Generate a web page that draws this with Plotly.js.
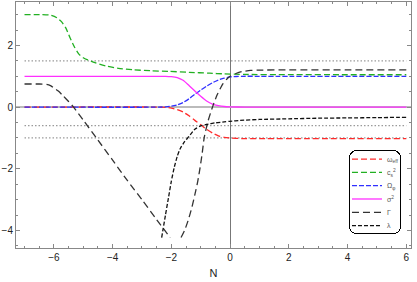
<!DOCTYPE html>
<html><head><meta charset="utf-8">
<script src="https://cdn.plot.ly/plotly-3.0.1.min.js"></script>
<style>html,body{margin:0;padding:0;background:#fff;}#chart{width:417px;height:282px;}</style>
</head><body><div id="chart"></div>
<script>
// ---- data ----
const nOmegaEff = [-7,-2.4,-2.2,-2.0,-1.8,-1.6,-1.4,-1.2,-1.0,-0.8,-0.6,-0.4,-0.2,0,0.4,1,6];
const omegaEff  = [0,0,-0.01,-0.03,-0.08,-0.16,-0.28,-0.43,-0.57,-0.72,-0.84,-0.93,-0.98,-1.0,-1.02,-1.02,-1.02];

const nSoundSpeed = [-7,-6.4,-6.1,-5.9,-5.75,-5.6,-5.45,-5.3,-5.15,-5.0,-4.85,-4.6,-4.2,-3.8,-3.3,-2.7,-2.1,-1.4,-0.7,-0.2,0.5,2,4,6];
const soundSpeed  = [3.0,3.0,2.98,2.9,2.78,2.58,2.25,1.95,1.72,1.6,1.53,1.44,1.33,1.26,1.21,1.18,1.16,1.13,1.1,1.08,1.06,1.055,1.05,1.05];

const nOmegaPhi = [-7,-2.4,-2.2,-2.0,-1.8,-1.6,-1.4,-1.2,-1.0,-0.8,-0.6,-0.4,-0.2,0,0.4,1,6];
const omegaPhi  = [0,0,0.01,0.03,0.07,0.15,0.27,0.42,0.55,0.68,0.79,0.88,0.94,0.98,1.0,1.0,1.0];

const nSigma = [-7,-2.4,-2.2,-2.0,-1.8,-1.6,-1.4,-1.2,-1.0,-0.8,-0.6,-0.4,-0.2,0,0.5,1,6];
const sigma2 = [1,1,1.0,0.99,0.96,0.87,0.7,0.52,0.35,0.2,0.1,0.05,0.02,0.01,0,0,0];

const nGamma = [-7,-6.5,-6.25,-6.1,-6.0,-5.85,-5.7,-5.5,-5.33,-5.0,-4.5,-4.0,-3.5,-3.0,-2.5,-2.04,-1.85,
                -1.67,-1.55,-1.43,-1.3,-1.19,-1.1,-1.02,-0.95,-0.88,-0.75,-0.6,-0.44,-0.24,-0.1,0,0.2,0.4,0.7,1.0,2,4,6];
const gamma  = [0.75,0.75,0.74,0.69,0.62,0.52,0.38,0.18,0,-0.42,-1.07,-1.72,-2.38,-3.0,-3.65,-4.23,null,
                -4.23,-4.0,-3.68,-3.25,-2.8,-2.4,-1.95,-1.5,-0.98,-0.45,0.0,0.4,0.76,0.92,1.0,1.09,1.15,1.19,1.2,1.21,1.21,1.21];

const nLambda = [-2.33,-2.28,-2.2,-2.1,-2.0,-1.9,-1.8,-1.7,-1.55,-1.4,-1.2,-1.0,-0.8,-0.5,-0.2,0,0.34,1,2,3,4,5,6];
const lambda  = [-4.23,-3.95,-3.5,-2.95,-2.4,-1.95,-1.6,-1.35,-1.12,-0.95,-0.72,-0.61,-0.56,-0.51,-0.48,-0.46,-0.43,-0.4,-0.38,-0.36,-0.35,-0.34,-0.33];

const refN = [-7, 6];
const refLevels = [1.5, -0.6, -1.0];

const labels = ['ω<sub>eff</sub>', 'c<sub>s</sub><sup>2</sup>', 'Ω<sub>φ</sub>', 'σ<sup>2</sup>', 'Γ', 'λ'];
const xTitle = 'N';

// ---- traces ----
const traces = [];
refLevels.forEach(v => traces.push({
  x: refN, y: refN.map(() => v), mode: 'lines', showlegend: false, hoverinfo: 'skip',
  line: {color: '#9a9a9a', width: 1.2, dash: '1.5px,2px'}
}));
const series = [
  [nOmegaEff, omegaEff, '#ff2a2a', '6px,3px'],
  [nSoundSpeed, soundSpeed, '#22b022', '6px,3px'],
  [nOmegaPhi, omegaPhi, '#3030ff', '5px,2px'],
  [nSigma, sigma2, '#ff30ff', 'solid'],
  [nGamma, gamma, '#333333', '7px,4px'],
  [nLambda, lambda, '#111111', '4px,2px']
];
series.forEach((s, i) => traces.push({
  x: s[0], y: s[1], name: labels[i], mode: 'lines',
  line: {color: s[2], width: 1.3, dash: s[3], shape: 'spline', smoothing: 0.6},
  connectgaps: false
}));

const axisCommon = {
  ticks: 'inside', ticklen: 4, tickcolor: '#888', tickwidth: 1,
  minor: {dtick: 0.5, ticklen: 2, ticks: 'inside', tickcolor: '#888', showgrid: false},
  showline: true, linecolor: '#888', linewidth: 1, mirror: 'ticks',
  showgrid: false, tickfont: {family: 'Liberation Sans, Arial, sans-serif', size: 10, color: '#222'}
};

const layout = {
  width: 417, height: 282,
  margin: {l: 16, r: 6, t: 2, b: 34, autoexpand: false},
  paper_bgcolor: '#fff', plot_bgcolor: '#fff',
  showlegend: true,
  xaxis: Object.assign({}, axisCommon, {
    range: [-7.29, 6.16], dtick: 2, tick0: 0,
    zeroline: true, zerolinecolor: '#777', zerolinewidth: 1,
    title: {text: xTitle, font: {family: 'Liberation Sans, Arial, sans-serif', size: 11, color: '#222'}, standoff: 7}
  }),
  yaxis: Object.assign({}, axisCommon, {
    range: [-4.57, 3.41], dtick: 2, tick0: 0,
    zeroline: true, zerolinecolor: '#bbbbbb', zerolinewidth: 2
  }),
  legend: {
    x: 0.843, y: 0.398, xanchor: 'left', yanchor: 'top',
    bgcolor: '#fff', bordercolor: '#000', borderwidth: 1,
    font: {family: 'Liberation Sans, Arial, sans-serif', size: 7, color: '#555'}
  }
};

Plotly.newPlot('chart', traces, layout, {staticPlot: true, displayModeBar: false}).then(function(gd) {
  const leg = gd.querySelector('.legend');
  if (!leg) return;
  const bg = leg.querySelector('rect.bg');
  if (bg) {
    bg.setAttribute('rx', 7); bg.setAttribute('ry', 7);
    bg.setAttribute('width', 51); bg.setAttribute('height', 83);
  }
  leg.querySelectorAll('g.traces').forEach(function(g, i) {
    g.setAttribute('transform', 'translate(-2,' + (9 + i * 13.3) + ')');
  });
});
</script>
</body></html>
